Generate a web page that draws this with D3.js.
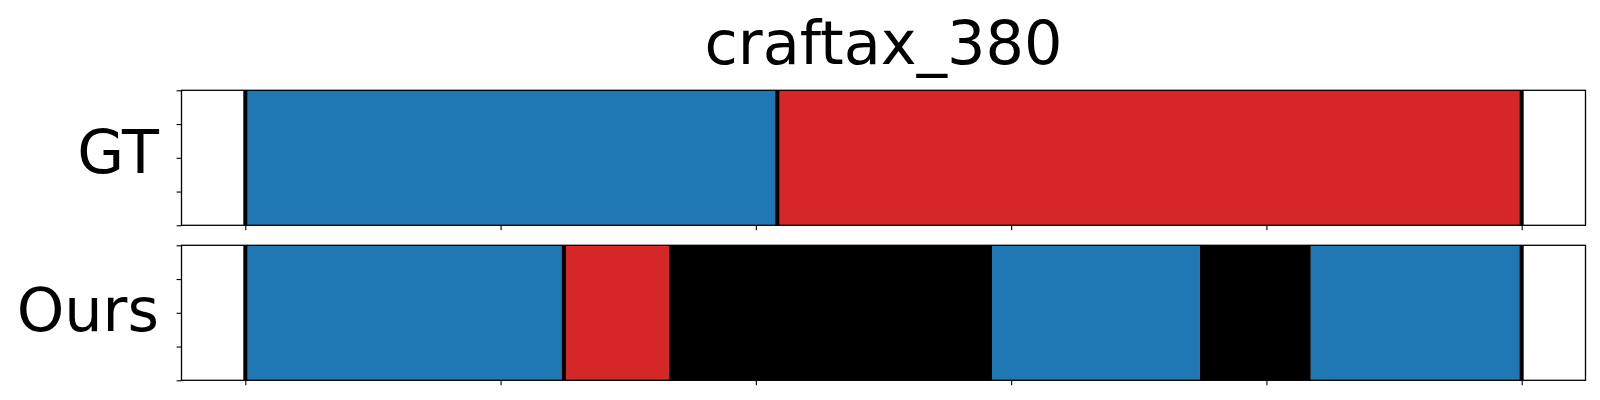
<!DOCTYPE html>
<html>
<head>
<meta charset="utf-8">
<script src="https://cdn.jsdelivr.net/npm/d3@7"></script>
<style>
  html, body { margin: 0; padding: 0; background: #fff; }
  svg { display: block; }
</style>
</head>
<body>
<svg id="chart" width="1600" height="400"></svg>
<script>
// ---- data ----
const title = "craftax_380";
const rowLabels = ["GT", "Ours"];
const classColors = ["#1f77b4", "#d62728", "#000000"];
const xTicks = [0, 100, 200, 300, 400, 500];
const yTicks = [0, 0.25, 0.5, 0.75, 1];
const xDomain = [0, 500];

const gtEdges = [0, 208.4, 500];
const gtClasses = [0, 1];
const gtLines = [0, 208.4, 500];

const oursEdges = [0, 124.8, 166.0, 292.5, 373.9, 417.4, 500];
const oursClasses = [0, 1, 2, 0, 2, 0];
const oursLines = [0, 124.8, 500];

// ---- layout ----
const svg = d3.select("#chart");
const left = 181.5, right = 1585.5;
const panels = [
  { label: rowLabels[0], edges: gtEdges, classes: gtClasses, lines: gtLines, top: 90.3, bottom: 225.3, baseline: 173.3 },
  { label: rowLabels[1], edges: oursEdges, classes: oursClasses, lines: oursLines, top: 245.3, bottom: 380.3, baseline: 330.5 }
];

const span = xDomain[1] - xDomain[0];
const x = d3.scaleLinear()
  .domain([xDomain[0] - 0.05 * span, xDomain[1] + 0.05 * span])
  .range([left, right]);

svg.append("text")
  .attr("x", (left + right) / 2)
  .attr("y", 63.5)
  .attr("text-anchor", "middle")
  .attr("font-family", "DejaVu Sans")
  .attr("font-size", 60.5)
  .attr("fill", "#000")
  .text(title);

panels.forEach(p => {
  const y = d3.scaleLinear().domain([0, 1]).range([p.bottom, p.top]);
  const g = svg.append("g");

  const segs = p.classes.map((c, i) => ({ x0: p.edges[i], x1: p.edges[i + 1], c }));
  g.selectAll("rect.seg").data(segs).enter().append("rect")
    .attr("class", "seg")
    .attr("x", d => x(d.x0))
    .attr("width", d => x(d.x1) - x(d.x0))
    .attr("y", y(1))
    .attr("height", y(0) - y(1))
    .attr("fill", d => classColors[d.c]);

  g.selectAll("line.bd").data(p.lines).enter().append("line")
    .attr("class", "bd")
    .attr("x1", d => x(d)).attr("x2", d => x(d))
    .attr("y1", y(1)).attr("y2", y(0))
    .attr("stroke", "#000")
    .attr("stroke-width", 4);

  // axes
  const xAxis = d3.axisBottom(x).tickValues(xTicks).tickSize(4.9).tickFormat("");
  const gx = g.append("g").attr("transform", `translate(0,${p.bottom})`).call(xAxis);
  gx.select(".domain").remove();
  gx.selectAll("line").attr("stroke", "#000").attr("stroke-width", 1.1);

  const yAxis = d3.axisLeft(y).tickValues(yTicks).tickSize(4.9).tickFormat("");
  const gy = g.append("g").attr("transform", `translate(${left},0)`).call(yAxis);
  gy.select(".domain").remove();
  gy.selectAll("line").attr("stroke", "#000").attr("stroke-width", 1.1);

  g.append("rect")
    .attr("x", left).attr("y", p.top)
    .attr("width", right - left).attr("height", p.bottom - p.top)
    .attr("fill", "none")
    .attr("stroke", "#000")
    .attr("stroke-width", 1.3);

  svg.append("text")
    .attr("x", 159)
    .attr("y", p.baseline)
    .attr("text-anchor", "end")
    .attr("font-family", "DejaVu Sans")
    .attr("font-size", 60.5)
    .attr("fill", "#000")
    .text(p.label);
});
</script>
</body>
</html>
